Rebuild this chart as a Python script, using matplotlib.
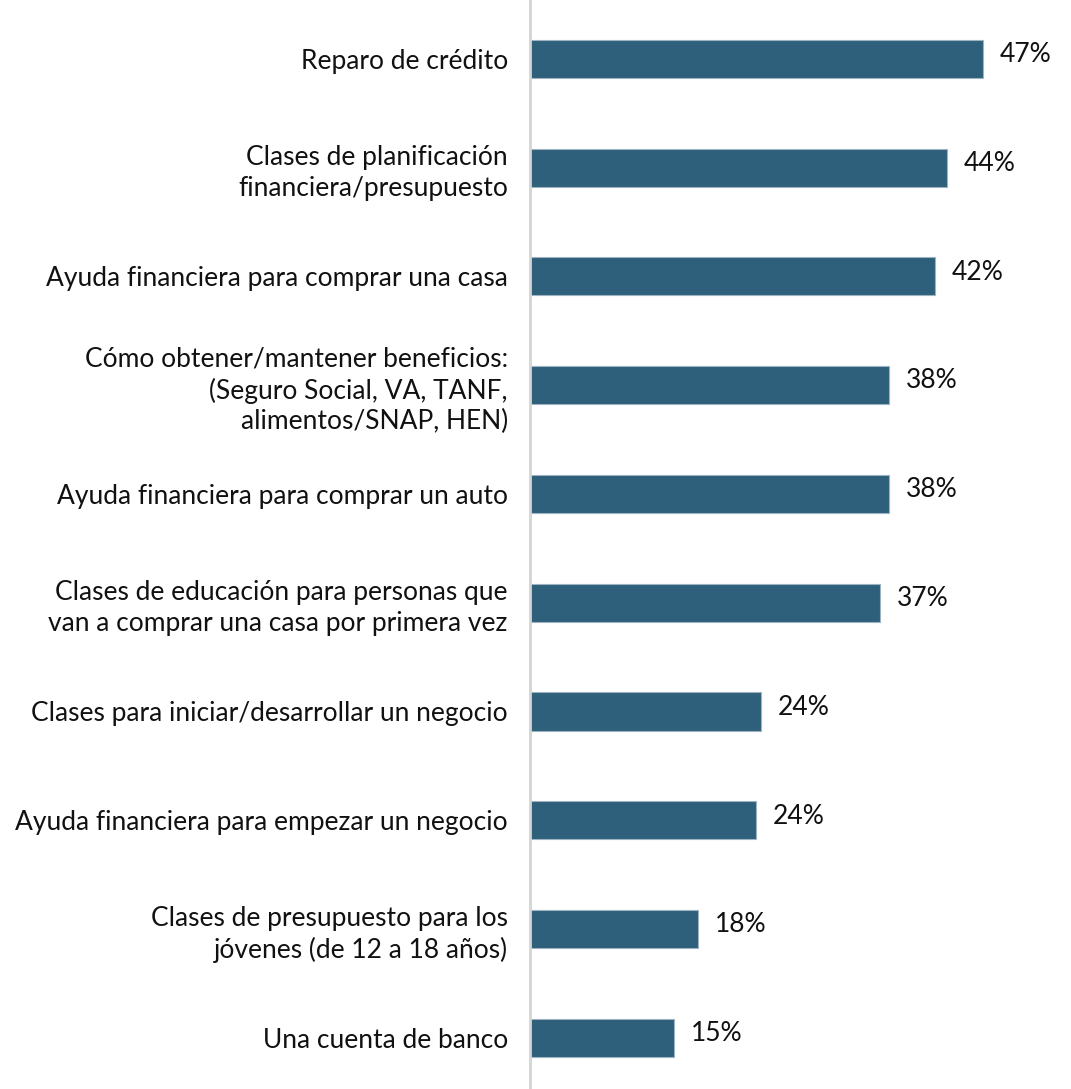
import matplotlib.pyplot as plt

categories = [
    "Reparo de crédito",
    "Clases de planificación\nfinanciera/presupuesto",
    "Ayuda financiera para comprar una casa",
    "Cómo obtener/mantener beneficios:\n(Seguro Social, VA, TANF,\nalimentos/SNAP, HEN)",
    "Ayuda financiera para comprar un auto",
    "Clases de educación para personas que\nvan a comprar una casa por primera vez",
    "Clases para iniciar/desarrollar un negocio",
    "Ayuda financiera para empezar un negocio",
    "Clases de presupuesto para los\njóvenes (de 12 a 18 años)",
    "Una cuenta de banco",
]
values = [47.1, 43.4, 42.1, 37.4, 37.4, 36.4, 24.0, 23.5, 17.5, 15.0]
value_labels = ["47%", "44%", "42%", "38%", "38%", "37%", "24%", "24%", "18%", "15%"]

BAR_COLOR = "#2E5F7B"

plt.rcParams["font.family"] = ["Lato", "DejaVu Sans"]

fig = plt.figure(figsize=(10.71, 10.89), dpi=100)
ax = fig.add_axes([530 / 1071, 0, 541 / 1071, 1])

pos = list(range(len(categories)))
ax.barh(pos, values, height=0.35, color=BAR_COLOR, edgecolor="#9DB3C2", linewidth=0.8)

for y, v, lab in zip(pos, values, value_labels):
    ax.annotate(lab, (v, y), xytext=(12, 3), textcoords="offset points",
                va="center", ha="left", fontsize=19, color="#111111")

ax.set_xlim(0, 56.3)
ax.set_ylim(9.47, -0.54)
ax.set_yticks(pos)
ax.set_yticklabels(categories, fontsize=19, color="#111111", linespacing=1.28)
ax.tick_params(axis="y", length=0, pad=16)
ax.set_xticks([])

for side in ["top", "right", "bottom"]:
    ax.spines[side].set_visible(False)
ax.spines["left"].set_color("#D4D4D4")
ax.spines["left"].set_linewidth(2)

fig.savefig("out.png", dpi=100)
